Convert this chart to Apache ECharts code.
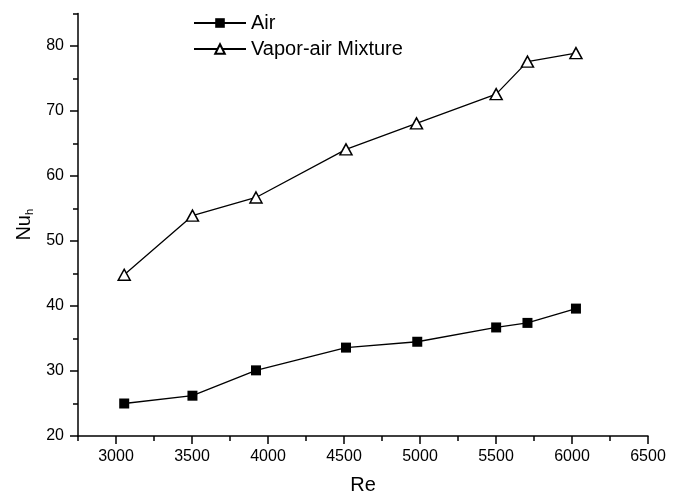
<!DOCTYPE html>
<html>
<head>
<meta charset="utf-8">
<script src="https://cdn.jsdelivr.net/npm/echarts@6/dist/echarts.min.js"></script>
<style>
  html, body { margin: 0; padding: 0; background: #fff; }
  #chart { width: 677px; height: 494px; }
</style>
</head>
<body>
<div id="chart"></div>
<script>
  // Re values and Nu_h
  const reAir = [3054, 3503, 3921, 4513, 4982, 5501, 5707, 6026];
  const nuAir = [25.0, 26.2, 30.1, 33.6, 34.5, 36.7, 37.4, 39.6];
  const reVapor = [3054, 3503, 3921, 4513, 4977, 5501, 5707, 6026];
  const nuVapor = [44.8, 53.9, 56.7, 64.1, 68.1, 72.6, 77.6, 78.9];
  const xMajorTicks = [3000, 3500, 4000, 4500, 5000, 5500, 6000, 6500];
  const yMajorTicks = [20, 30, 40, 50, 60, 70, 80];

  const FONT = '"Liberation Sans", Arial, sans-serif';
  const chart = echarts.init(document.getElementById('chart'));

  const pairs = (xs, ys) => xs.map((x, i) => [x, ys[i]]);

  const option = {
    animation: false,
    textStyle: { fontFamily: FONT, color: '#000' },
    grid: { left: 78, right: 29, top: 13.5, bottom: 58, outerBoundsMode: 'none' },
    legend: {
      orient: 'vertical',
      left: 188,
      top: 8,
      itemWidth: 52,
      itemHeight: 12,
      itemGap: 6,
      textStyle: { fontFamily: FONT, fontSize: 20, color: '#000' },
      data: ['Air', 'Vapor-air Mixture']
    },
    xAxis: [
      {
        // minor ticks + axis line
        type: 'value', min: 2750, max: 6500, interval: 250,
        position: 'bottom',
        axisLine: { lineStyle: { color: '#000', width: 1.5 } },
        axisTick: { inside: false, length: 5, lineStyle: { color: '#000', width: 1.5 } },
        axisLabel: { show: false },
        splitLine: { show: false }
      },
      {
        // major ticks + labels
        type: 'value', min: 2750, max: 6500,
        position: 'bottom',
        axisLine: { show: false },
        axisTick: { customValues: xMajorTicks, length: 8, lineStyle: { color: '#000', width: 1.5 } },
        axisLabel: {
          customValues: xMajorTicks, fontSize: 16, color: '#000', margin: 13, fontFamily: FONT,
          formatter: v => String(v)
        },
        splitLine: { show: false },
        name: 'Re',
        nameLocation: 'middle',
        nameGap: 39,
        nameTextStyle: { fontSize: 20, color: '#000', fontFamily: FONT }
      }
    ],
    yAxis: [
      {
        type: 'value', min: 20, max: 85, interval: 5,
        position: 'left',
        axisLine: { show: true, lineStyle: { color: '#000', width: 1.5 } },
        axisTick: { show: true, inside: false, length: 5, lineStyle: { color: '#000', width: 1.5 } },
        axisLabel: { show: false },
        splitLine: { show: false }
      },
      {
        type: 'value', min: 20, max: 85,
        position: 'left',
        axisLine: { show: false },
        axisTick: { show: true, customValues: yMajorTicks, length: 8, lineStyle: { color: '#000', width: 1.5 } },
        axisLabel: { customValues: yMajorTicks, fontSize: 16, color: '#000', margin: 14, fontFamily: FONT },
        splitLine: { show: false },
        name: 'Nu{s|h}',
        nameLocation: 'middle',
        nameRotate: 90,
        nameGap: 42,
        nameTextStyle: {
          fontSize: 20, color: '#000', fontFamily: FONT,
          rich: {
            s: { fontSize: 11, fontFamily: FONT, color: '#000', verticalAlign: 'bottom', padding: [10, 0, 0, 0] }
          }
        }
      }
    ],
    series: [
      {
        name: 'Air',
        type: 'line',
        xAxisIndex: 0, yAxisIndex: 0,
        data: pairs(reAir, nuAir),
        symbol: 'rect',
        symbolSize: 10,
        showAllSymbol: true,
        lineStyle: { color: '#000', width: 1.3 },
        itemStyle: { color: '#000', borderColor: '#000', borderWidth: 0 }
      },
      {
        name: 'Vapor-air Mixture',
        type: 'line',
        xAxisIndex: 0, yAxisIndex: 0,
        data: pairs(reVapor, nuVapor),
        symbol: 'triangle',
        symbolSize: [12, 11],
        showAllSymbol: true,
        lineStyle: { color: '#000', width: 1.3 },
        itemStyle: { color: '#fff', borderColor: '#000', borderWidth: 1.5 }
      }
    ]
  };

  chart.setOption(option);
</script>
</body>
</html>
